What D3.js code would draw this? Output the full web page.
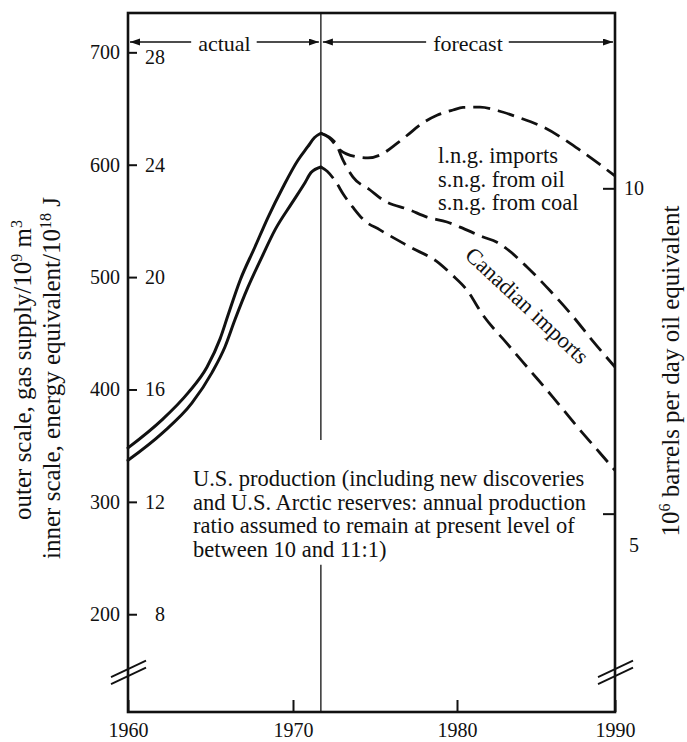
<!DOCTYPE html>
<html>
<head>
<meta charset="utf-8">
<script src="https://cdn.jsdelivr.net/npm/d3@7"></script>
<style>
    body { margin: 0; background: #fff; }
    svg text { font-family: "Liberation Serif", "Times New Roman", serif; fill: #111; }
</style>
</head>
<body>
<div id="chart"></div>
<script>
// 0. data (outer scale = gas supply in 10^9 m3)
var yearTicks = [1960, 1970, 1980, 1990];
var outerTicks = [200, 300, 400, 500, 600, 700];
var innerTicks = [8, 12, 16, 20, 24, 28];
var barrelTicks = [5, 10];
var outerPerInner = 25;      // 10^9 m3 per 10^18 J
var outerPerBarrel = 57.9;   // 10^9 m3 per 10^6 barrels/day
var forecastStart = 1971.7;
var breakLevel = 148;
var dividerGap = [244, 355];

// actual: upper solid = total supply, lower solid = U.S. production
var totalYears = [1960, 1962.06, 1963.64, 1964.79, 1965.58, 1966.06, 1966.79, 1967.7, 1968.48, 1969.39, 1970.3, 1970.9, 1971.3, 1971.7];
var totalVals  = [348, 373, 397, 420, 445, 466, 497, 527, 553, 580, 604, 616, 624, 628];
var usYears = [1960, 1962.06, 1963.88, 1965.09, 1965.88, 1966.48, 1967.27, 1968.12, 1968.91, 1969.94, 1970.73, 1971.1, 1971.7];
var usVals  = [337, 361, 388, 415, 438, 462, 491, 518, 542, 566, 584, 593, 598];

// forecast (dashed)
var lngYears = [1971.7, 1972.2, 1972.87, 1973.9, 1974.57, 1975.3, 1976.34, 1976.95, 1977.9, 1978.78, 1979.76, 1980.38, 1981.46, 1982.6, 1983.8, 1985.44, 1987.78, 1990];
var lngVals  = [628, 624, 613, 607, 606, 608.6, 619, 626, 637, 644, 648.7, 651, 651.3, 648, 642.5, 633.6, 613, 590];
var canYears = [1971.7, 1972.56, 1973.05, 1973.66, 1974.7, 1975.49, 1977.13, 1978.17, 1979.39, 1980.19, 1981.65, 1982.53, 1983.16, 1984.43, 1985.88, 1987.34, 1988.6, 1990];
var canVals  = [628, 620, 604, 589, 577.5, 568.6, 559.7, 553.4, 549, 544.5, 535.7, 531, 525, 509, 488, 465, 443, 420];
var usFcYears = [1971.7, 1972.1, 1972.6, 1973.1, 1973.66, 1974.3, 1975.3, 1977.1, 1978.9, 1979.7, 1980.6, 1981.65, 1983.16, 1984.62, 1986.08, 1987.6, 1989.05, 1990];
var usFcVals  = [598, 594, 585, 573, 562, 551, 542, 527, 512.5, 502, 489, 466, 441, 417, 393, 367, 343.5, 328];

var noteLines = [
    "U.S. production (including new discoveries",
    "and U.S. Arctic reserves: annual production",
    "ratio assumed to remain at present level of",
    "between 10 and 11:1)"
];
var sourceLines = ["l.n.g. imports", "s.n.g. from oil", "s.n.g. from coal"];

// 1. size and scales
var svgW = 687, svgH = 742;
var svg = d3.select("#chart").append("svg").attr("width", svgW).attr("height", svgH);

var x = d3.scaleLinear().domain([1960, 1970, 1980, 1990]).range([128, 293, 457, 615]);
var y = d3.scaleLinear().domain([113, 735]).range([712, 13]);
var yInner = d3.scaleLinear().domain([113 / outerPerInner, 735 / outerPerInner]).range([712, 13]);
var yBarrel = d3.scaleLinear().domain([113 / outerPerBarrel, 735 / outerPerBarrel]).range([712, 13]);

var x0 = x(1960), x1 = x(1990), yTop = y(735), yBot = y(113);

// 2. frame
svg.append("rect")
    .attr("x", x0).attr("y", yTop)
    .attr("width", x1 - x0).attr("height", yBot - yTop)
    .attr("fill", "none").attr("stroke", "#111").attr("stroke-width", 2.6);

// 3. axes
function styleAxis(g, size) {
    g.attr("font-family", null).attr("font-size", null);
    g.select(".domain").remove();
    g.selectAll(".tick line").attr("stroke", "#111").attr("stroke-width", 2);
    g.selectAll(".tick text").attr("font-size", size).attr("fill", "#111");
}

var axisL = svg.append("g").attr("transform", "translate(" + x0 + ",0)")
    .call(d3.axisLeft(y).tickValues(outerTicks).tickSize(-9).tickPadding(8));
styleAxis(axisL, 20);

var axisInner = svg.append("g").attr("transform", "translate(165,0)")
    .call(d3.axisLeft(yInner).tickValues(innerTicks).tickSize(0).tickPadding(0));
styleAxis(axisInner, 20);
axisInner.selectAll(".tick line").remove();
axisInner.selectAll(".tick text").attr("dy", function(d) { return d === 28 ? "0.55em" : "0.32em"; });

var axisR = svg.append("g").attr("transform", "translate(" + x1 + ",0)")
    .call(d3.axisRight(yBarrel).tickValues(barrelTicks).tickSize(-12).tickPadding(19));
styleAxis(axisR, 20);
axisR.selectAll(".tick text").attr("text-anchor", "middle")
    .attr("dy", function(d) { return d === 5 ? "1.9em" : "0.32em"; });

var axisB = svg.append("g").attr("transform", "translate(0," + yBot + ")")
    .call(d3.axisBottom(x).tickValues(yearTicks).tickFormat(d3.format("d")).tickSize(-12).tickPadding(11));
styleAxis(axisB, 20);

// axis breaks
[x0, x1].forEach(function(cx) {
    var cy = y(breakLevel);
    [-3.5, 3.5].forEach(function(off) {
        svg.append("line")
            .attr("x1", cx - 17).attr("y1", cy + off + 8)
            .attr("x2", cx + 18).attr("y2", cy + off - 8.5)
            .attr("stroke", "#111").attr("stroke-width", 1.8);
    });
});

// 4. actual / forecast divider
var xd = x(forecastStart);
svg.append("line").attr("x1", xd).attr("x2", xd).attr("y1", yTop).attr("y2", y(dividerGap[1]))
    .attr("stroke", "#111").attr("stroke-width", 1.3);
svg.append("line").attr("x1", xd).attr("x2", xd).attr("y1", y(dividerGap[0])).attr("y2", yBot)
    .attr("stroke", "#111").attr("stroke-width", 1.3);

// 5. curves
var line = d3.line()
    .x(function(d) { return x(d[0]); })
    .y(function(d) { return y(d[1]); })
    .curve(d3.curveMonotoneX);

function series(years, vals, dashed) {
    svg.append("path")
        .datum(d3.zip(years, vals))
        .attr("d", line)
        .attr("fill", "none")
        .attr("stroke", "#111")
        .attr("stroke-width", dashed ? 2.8 : 3)
        .attr("stroke-linecap", dashed ? "butt" : "round")
        .attr("stroke-dasharray", dashed ? "17,8" : null);
}
series(totalYears, totalVals, false);
series(usYears, usVals, false);
series(lngYears, lngVals, true);
series(canYears, canVals, true);
series(usFcYears, usFcVals, true);

// 6. actual / forecast arrows
var defs = svg.append("defs");
defs.append("marker").attr("id", "arr")
    .attr("markerUnits", "userSpaceOnUse")
    .attr("markerWidth", 10).attr("markerHeight", 8)
    .attr("refX", 10).attr("refY", 3.5).attr("orient", "auto")
    .append("path").attr("d", "M0,0L10,3.5L0,7z").attr("fill", "#111");

var arrowY = 42;
function spanLabel(txt, xa, xb) {
    var t = svg.append("text").attr("x", (xa + xb) / 2).attr("y", arrowY + 9)
        .attr("text-anchor", "middle").attr("font-size", 22).text(txt);
    var w = t.node().getComputedTextLength();
    var cx = (xa + xb) / 2;
    svg.append("line").attr("x1", cx - w / 2 - 7).attr("x2", xa + 2)
        .attr("y1", arrowY).attr("y2", arrowY)
        .attr("stroke", "#111").attr("stroke-width", 1.3).attr("marker-end", "url(#arr)");
    svg.append("line").attr("x1", cx + w / 2 + 6).attr("x2", xb - 2)
        .attr("y1", arrowY).attr("y2", arrowY)
        .attr("stroke", "#111").attr("stroke-width", 1.3).attr("marker-end", "url(#arr)");
}
spanLabel("actual", x0, xd);
spanLabel("forecast", xd, x1);

// 7. notes
var note = svg.append("text").attr("font-size", 22.5);
noteLines.forEach(function(s, i) {
    note.append("tspan").attr("x", 193).attr("y", 486 + i * 23.5).text(s);
});

var src = svg.append("text").attr("font-size", 22.5);
sourceLines.forEach(function(s, i) {
    src.append("tspan").attr("x", 438).attr("y", 163 + i * 23.5).text(s);
});

svg.append("text")
    .attr("transform", "translate(522,311) rotate(43)")
    .attr("text-anchor", "middle").attr("font-size", 22.5)
    .text("Canadian imports");

// 8. axis titles
function sup(t, base, s, rest) {
    t.append("tspan").text(base);
    t.append("tspan").attr("font-size", 16).attr("dy", -9).text(s);
    t.append("tspan").attr("dy", 9).text(rest);
}
var tOuter = svg.append("text").attr("transform", "translate(31,370) rotate(-90)")
    .attr("text-anchor", "middle").attr("font-size", 25);
tOuter.append("tspan").text("outer scale, gas supply/10");
tOuter.append("tspan").attr("font-size", 16).attr("dy", -9).text("9");
tOuter.append("tspan").attr("dy", 9).text(" m");
tOuter.append("tspan").attr("font-size", 16).attr("dy", -9).text("3");

var tInner = svg.append("text").attr("transform", "translate(60,378) rotate(-90)")
    .attr("text-anchor", "middle").attr("font-size", 25);
sup(tInner, "inner scale, energy equivalent/10", "18", " J");

var tRight = svg.append("text").attr("transform", "translate(679,371) rotate(-90)")
    .attr("text-anchor", "middle").attr("font-size", 25);
sup(tRight, "10", "6", " barrels per day oil equivalent");
</script>
</body>
</html>
